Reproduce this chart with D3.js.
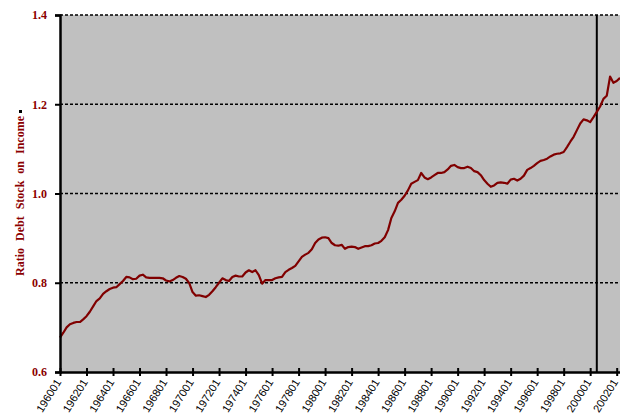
<!DOCTYPE html>
<html lang="en">
<head>
<meta charset="utf-8">
<title>Ratio Debt Stock on Income</title>
<script src="https://d3js.org/d3.v7.min.js"></script>
<style>
  body { margin: 0; background: #fff; }
  svg { display: block; }
</style>
</head>
<body>
<svg width="620" height="414"></svg>
<script>
// quarterly ratio, 1960Q1 .. 2002Q2
var ratio = [
  0.677, 0.688, 0.700, 0.707, 0.710, 0.712, 0.712, 0.718, 0.725, 0.735,
  0.747, 0.759, 0.765, 0.775, 0.781, 0.786, 0.789, 0.790, 0.797, 0.804,
  0.813, 0.812, 0.808, 0.809, 0.816, 0.818, 0.812, 0.811, 0.811, 0.811,
  0.811, 0.810, 0.805, 0.803, 0.806, 0.811, 0.815, 0.813, 0.809, 0.799,
  0.779, 0.771, 0.772, 0.770, 0.768, 0.773, 0.781, 0.790, 0.800, 0.810,
  0.806, 0.804, 0.813, 0.816, 0.814, 0.814, 0.823, 0.828, 0.824, 0.828,
  0.817, 0.798, 0.806, 0.806, 0.806, 0.810, 0.812, 0.813, 0.824, 0.829,
  0.833, 0.838, 0.848, 0.858, 0.863, 0.867, 0.875, 0.889, 0.897, 0.901,
  0.902, 0.900, 0.889, 0.884, 0.883, 0.885, 0.876, 0.880, 0.881, 0.880,
  0.876, 0.879, 0.882, 0.882, 0.884, 0.888, 0.889, 0.894, 0.902, 0.918,
  0.945, 0.960, 0.979, 0.986, 0.995, 1.007, 1.022, 1.026, 1.030, 1.046,
  1.036, 1.032, 1.036, 1.041, 1.046, 1.046, 1.048, 1.054, 1.062, 1.064,
  1.059, 1.057, 1.057, 1.060, 1.057, 1.050, 1.048, 1.041, 1.030, 1.022,
  1.015, 1.018, 1.024, 1.025, 1.024, 1.022, 1.031, 1.033, 1.029, 1.033,
  1.040, 1.053, 1.057, 1.062, 1.068, 1.073, 1.075, 1.078, 1.083, 1.087,
  1.089, 1.090, 1.093, 1.104, 1.116, 1.127, 1.142, 1.157, 1.166, 1.164,
  1.160, 1.171, 1.183, 1.195, 1.212, 1.219, 1.262, 1.248, 1.252, 1.259
];
var startYear = 1960;
var quarters = ratio.map(function(d, i) {
  return (startYear + Math.floor(i / 4)) + "0" + (i % 4 + 1);
});
var tickLabels = ["196001","196201","196401","196601","196801","197001","197201",
  "197401","197601","197801","198001","198201","198401","198601","198801",
  "199001","199201","199401","199601","199801","200001","200201"];
var yTicks = [0.6, 0.8, 1.0, 1.2, 1.4];
var gridValues = [0.8, 1.0, 1.2, 1.4];
var markerQuarter = "200003";

var svg = d3.select("svg");
// plot box (window.top is reserved, so use other names)
var plotL = 60, plotR = 620, plotT = 15, plotB = 372;
var darkRed = "#8b0000";

var x = d3.scalePoint().domain(quarters).range([plotL, plotR]);
var y = d3.scaleLinear().domain([0.6, 1.4]).range([plotB, plotT]);

// plot background
svg.append("rect")
  .attr("x", plotL).attr("y", plotT)
  .attr("width", plotR - plotL).attr("height", plotB - plotT)
  .attr("fill", "#c0c0c0");

// dashed gridlines
svg.selectAll(".grid")
  .data(gridValues)
  .enter().append("line")
  .attr("class", "grid")
  .attr("x1", plotL).attr("x2", plotR)
  .attr("y1", function(d) { return y(d); })
  .attr("y2", function(d) { return y(d); })
  .attr("stroke", "#000")
  .attr("stroke-width", 1.5)
  .attr("stroke-dasharray", "3,2");

// vertical marker
svg.append("line")
  .attr("x1", x(markerQuarter)).attr("x2", x(markerQuarter))
  .attr("y1", plotT).attr("y2", plotB)
  .attr("stroke", "#000").attr("stroke-width", 2);

// the series
var line = d3.line()
  .x(function(d, i) { return x(quarters[i]); })
  .y(function(d) { return y(d); });

svg.append("path")
  .datum(ratio)
  .attr("d", line)
  .attr("fill", "none")
  .attr("stroke", "#800000")
  .attr("stroke-width", 2.2)
  .attr("stroke-linejoin", "round");

// y axis
var yAxis = svg.append("g")
  .attr("transform", "translate(" + plotL + ",0)")
  .call(d3.axisLeft(y).tickValues(yTicks).tickSize(5).tickPadding(8)
    .tickFormat(d3.format(".1f")));
yAxis.select(".domain").attr("stroke", "#000").attr("stroke-width", 2.5);
yAxis.selectAll(".tick line").attr("stroke-width", 2);
yAxis.selectAll("text")
  .attr("fill", darkRed)
  .style("font-family", "'Liberation Serif', 'Times New Roman', serif")
  .style("font-weight", "bold")
  .style("font-size", "12px");

// x axis
var xAxis = svg.append("g")
  .attr("transform", "translate(0," + plotB + ")")
  .call(d3.axisBottom(x).tickValues(tickLabels).tickSize(0).tickFormat(function(d) { return d; }));
xAxis.select(".domain").attr("stroke", "#000").attr("stroke-width", 2.5);
xAxis.selectAll(".tick line").attr("y1", -4).attr("y2", 4).attr("stroke-width", 2);
xAxis.selectAll("text")
  .attr("fill", "#000")
  .attr("text-anchor", "end")
  .attr("transform", "translate(-2,8) rotate(-58)")
  .attr("dy", "0.35em")
  .attr("y", 0)
  .style("font-family", "'Liberation Sans', Arial, sans-serif")
  .style("font-size", "11px");

// axis title
svg.append("text")
  .attr("transform", "translate(24,196) rotate(-90)")
  .attr("text-anchor", "middle")
  .attr("fill", darkRed)
  .style("font-family", "'Liberation Serif', 'Times New Roman', serif")
  .style("font-weight", "bold")
  .style("font-size", "12px")
  .style("word-spacing", "4px")
  .text("Ratio Debt Stock on Income");

svg.append("rect")
  .attr("x", 19).attr("y", 110).attr("width", 3).attr("height", 3)
  .attr("fill", "#000");
</script>
</body>
</html>
